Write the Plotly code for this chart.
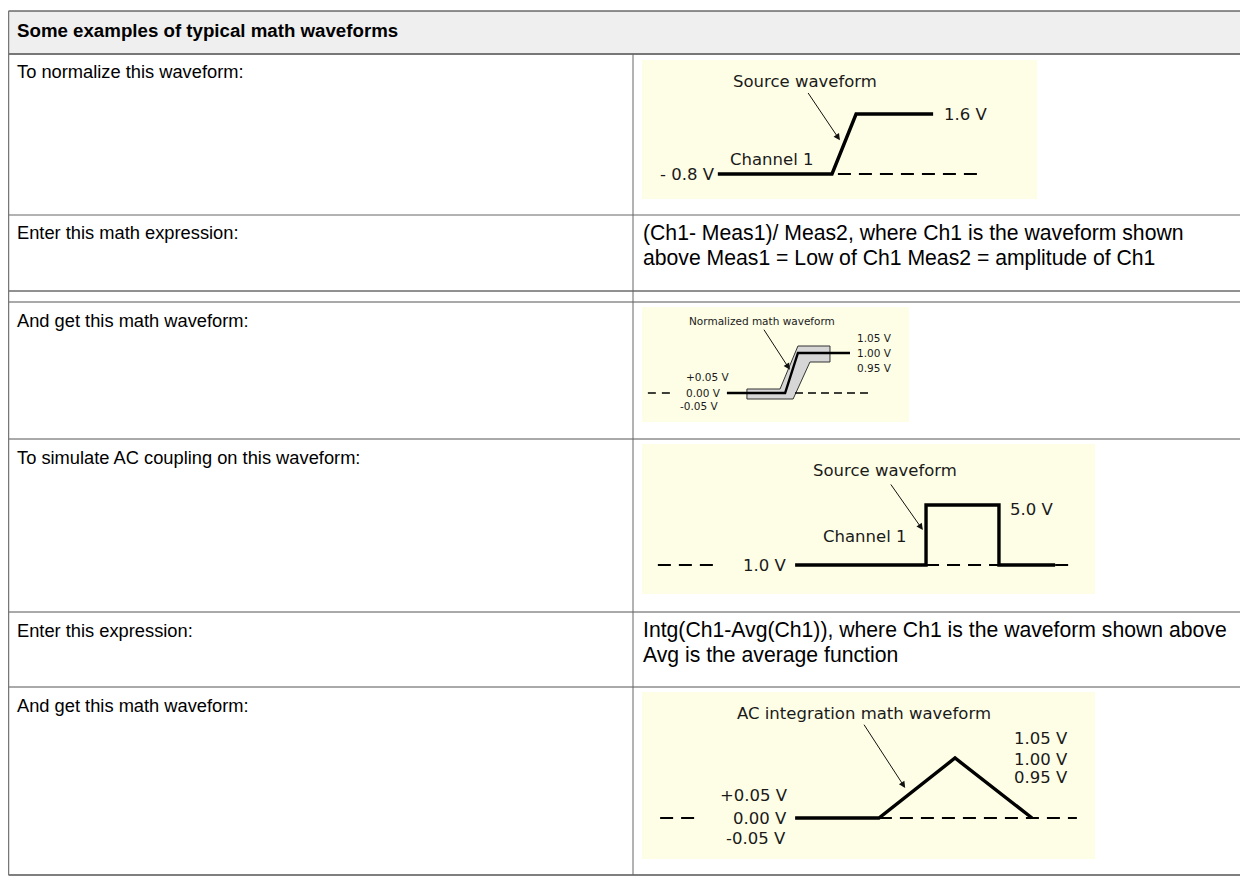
import plotly.graph_objects as go

# Page is 1248x877; the HTML body keeps an 8px margin, so the figure itself is 1240x869
PAGE_OFF = 8
W, H = 1240, 869

# ---------------- table content ----------------
header_text = "Some examples of typical math waveforms"
left_texts = [
    "To normalize this waveform:",
    "Enter this math expression:",
    "",
    "And get this math waveform:",
    "To simulate AC coupling on this waveform:",
    "Enter this expression:",
    "And get this math waveform:",
]
right_texts = [
    [],
    ["(Ch1- Meas1)/ Meas2, where Ch1 is the waveform shown",
     "above Meas1 = Low of Ch1 Meas2 = amplitude of Ch1"],
    [],
    [],
    [],
    ["Intg(Ch1-Avg(Ch1)), where Ch1 is the waveform shown above",
     "Avg is the average function"],
    [],
]

# ---------------- waveform data (time in % of panel width, level in V / drawing units) ----------------
# Panel 1: source waveform, step 0.8 V -> 1.6 V
p1_t = [19.2, 48.1, 54.2, 73.7]
p1_v = [0.8, 0.8, 1.6, 1.6]
p1_dash_t = [49.6, 84.8]
p1_dash_v = [0.8, 0.8]

# Panel 2: normalized math waveform with tolerance band
p2_t = [31.8, 53.6, 58.4, 77.9]
p2_v = [0.0, 0.0, 1.0, 1.0]
p2_band_up_t = [39.3, 51.7, 58.4, 70.4]
p2_band_up_v = [0.1, 0.1, 1.175, 1.175]
p2_band_lo_t = [39.3, 56.6, 62.9, 70.4]
p2_band_lo_v = [-0.15, -0.15, 0.775, 0.775]
p2_dash_t = [57.3, 85.4]
p2_dash_v = [0.0, 0.0]
p2_lead_t = [2.2, 12.4]
p2_lead_v = [0.0, 0.0]

# Panel 3: source pulse 1.0 V -> 5.0 V
p3_t = [33.8, 62.7, 62.7, 78.8, 78.8, 91.2]
p3_v = [1.0, 1.0, 5.0, 5.0, 1.0, 1.0]
p3_dash1_t = [62.7, 78.8]
p3_dash2_t = [91.2, 95.6]
p3_lead_t = [3.5, 15.7]
p3_level_v = [1.0, 1.0]

# Panel 4: AC integration triangle
p4_t = [33.8, 52.3, 69.1, 86.1]
p4_v = [0.0, 0.0, 1.0, 0.0]
p4_dash_t = [52.3, 96.0]
p4_lead_t = [4.0, 12.8]
p4_level_v = [0.0, 0.0]

# ---------------- layout geometry (page pixels) ----------------
row_edges = [11, 54, 215, 291, 302, 439, 612, 687, 875]
left_x, div_x = 8.5, 633
panels = [
    dict(box=(642, 60, 1037, 199), yr=(0.4667, 2.32)),
    dict(box=(642, 307, 909, 422), yr=(-0.725, 2.15)),
    dict(box=(642, 444, 1095, 594), yr=(-0.933, 9.067)),
    dict(box=(642, 692, 1095, 859), yr=(-0.683, 2.1)),
]


def px(x):
    return (x - PAGE_OFF) / W


def py(y):
    return 1 - (y - PAGE_OFF) / H


fig = go.Figure()
shapes = []
annotations = []

FAMILY = "Liberation Sans, Arial, sans-serif"
LEFT_FONT = dict(family=FAMILY, size=18.3, color="#000000")
HEAD_FONT = dict(family=FAMILY, size=18.7, color="#000000")
RIGHT_FONT = dict(family=FAMILY, size=21.2, color="#000000")
PANEL_FAMILY = "DejaVu Sans, Verdana, sans-serif"

# header background
shapes.append(dict(type="rect", xref="paper", yref="paper", x0=px(left_x), x1=1.0,
                   y0=py(row_edges[1]), y1=py(row_edges[0]), fillcolor="#efefef",
                   line=dict(width=0), layer="below"))
# horizontal lines
line_colors = ["#222222", "#777777", "#666666", "#222222", "#555555", "#555555", "#555555", "#555555", "#555555"]
line_widths = [1, 2, 1, 1, 1, 1, 1, 1, 1.5]
for yv, c, w in zip(row_edges, line_colors, line_widths):
    shapes.append(dict(type="line", xref="paper", yref="paper", x0=px(left_x), x1=1.0,
                       y0=py(yv), y1=py(yv), line=dict(color=c, width=w)))
# vertical lines
shapes.append(dict(type="line", xref="paper", yref="paper", x0=px(left_x), x1=px(left_x),
                   y0=py(row_edges[0]), y1=py(row_edges[-1]), line=dict(color="#777777", width=1.5)))
shapes.append(dict(type="line", xref="paper", yref="paper", x0=px(div_x), x1=px(div_x),
                   y0=py(row_edges[1]), y1=py(row_edges[-1]), line=dict(color="#666666", width=1)))

# header text
annotations.append(dict(text="<b>" + header_text + "</b>", xref="paper", yref="paper",
                        x=px(15), y=py(31), xanchor="left", yanchor="middle",
                        showarrow=False, font=HEAD_FONT))
# row texts
for i, (lt, rts) in enumerate(zip(left_texts, right_texts)):
    top = row_edges[i + 1]
    if lt:
        annotations.append(dict(text=lt, xref="paper", yref="paper", x=px(15), y=py(top + 18),
                                xanchor="left", yanchor="middle", showarrow=False, font=LEFT_FONT))
    for j, rt in enumerate(rts):
        annotations.append(dict(text=rt, xref="paper", yref="paper", x=px(641), y=py(top + 18 + 25 * j),
                                xanchor="left", yanchor="middle", showarrow=False, font=RIGHT_FONT))

# ---------------- panel axes ----------------
for k, p in enumerate(panels, start=1):
    x0, y0, x1, y1 = p["box"]
    ax = dict(domain=[px(x0), px(x1)], range=[0, 100], visible=False, fixedrange=True)
    ay = dict(domain=[py(y1), py(y0)], range=list(p["yr"]), visible=False, fixedrange=True)
    if k > 1:
        ax["anchor"] = f"y{k}"
        ay["anchor"] = f"x{k}"
    fig.update_layout(**{("xaxis" if k == 1 else f"xaxis{k}"): ax,
                         ("yaxis" if k == 1 else f"yaxis{k}"): ay})
    shapes.append(dict(type="rect", xref="paper", yref="paper", x0=px(x0), x1=px(x1),
                       y0=py(y1), y1=py(y0), fillcolor="#fefee6", line=dict(width=0), layer="below"))


def axn(k):
    return ("x" if k == 1 else f"x{k}"), ("y" if k == 1 else f"y{k}")


SOLID = dict(color="black", width=3.4)
DASH = dict(color="black", width=2, dash="13px,8px")


def add_line(k, t, v, line):
    xa, ya = axn(k)
    fig.add_trace(go.Scatter(x=t, y=v, mode="lines", line=line, xaxis=xa, yaxis=ya,
                             hoverinfo="skip", showlegend=False))


def label(k, t, v, text, anchor="left", size=16.5):
    xa, ya = axn(k)
    annotations.append(dict(text=text, x=t, y=v, xref=xa, yref=ya, xanchor=anchor, yanchor="middle",
                            showarrow=False, font=dict(family=PANEL_FAMILY, size=size, color="#1a1a1a")))


def arrow(k, t0, v0, t1, v1):
    xa, ya = axn(k)
    annotations.append(dict(text="", x=t1, y=v1, ax=t0, ay=v0, xref=xa, yref=ya, axref=xa, ayref=ya,
                            showarrow=True, arrowhead=2, arrowsize=1.3, arrowwidth=1, arrowcolor="#111111"))


# Panel 1
add_line(1, p1_dash_t, p1_dash_v, DASH)
add_line(1, p1_t, p1_v, SOLID)
label(1, 76.0, 1.6, "1.6 V")
label(1, 19.0, 0.8, "- 0.8 V", anchor="right")
label(1, 21.8, 0.99, "Channel 1")
label(1, 41.3, 2.03, "Source waveform", anchor="center")
arrow(1, 41.8, 1.90, 50.1, 1.25)

# Panel 2
band_t = p2_band_up_t + p2_band_lo_t[::-1] + [p2_band_up_t[0]]
band_v = p2_band_up_v + p2_band_lo_v[::-1] + [p2_band_up_v[0]]
fig.add_trace(go.Scatter(x=band_t, y=band_v, mode="lines", fill="toself", fillcolor="#d6d6d6",
                         line=dict(color="#333333", width=1), xaxis="x2", yaxis="y2",
                         hoverinfo="skip", showlegend=False))
add_line(2, p2_dash_t, p2_dash_v, dict(color="black", width=1.5, dash="8px,5px"))
add_line(2, p2_lead_t, p2_lead_v, dict(color="black", width=1.5, dash="8px,6px"))
add_line(2, p2_t, p2_v, dict(color="black", width=2.4))
label(2, 44.9, 1.8, "Normalized math waveform", anchor="center", size=10.5)
label(2, 79.8, 1.375, "1.05 V", size=10.5)
label(2, 79.8, 1.0, "1.00 V", size=10.5)
label(2, 79.8, 0.625, "0.95 V", size=10.5)
label(2, 33.7, 0.4, "+0.05 V", anchor="right", size=10.5)
label(2, 30.3, 0.0, "0.00 V", anchor="right", size=10.5)
label(2, 29.5, -0.325, "-0.05 V", anchor="right", size=10.5)
arrow(2, 45.3, 1.62, 55.4, 0.58)

# Panel 3
add_line(3, p3_lead_t, p3_level_v, DASH)
add_line(3, p3_dash1_t, p3_level_v, DASH)
add_line(3, p3_dash2_t, p3_level_v, DASH)
add_line(3, p3_t, p3_v, SOLID)
label(3, 80.8, 4.67, "5.0 V")
label(3, 58.7, 2.87, "Channel 1", anchor="right")
label(3, 32.2, 1.0, "1.0 V", anchor="right")
label(3, 53.6, 7.33, "Source waveform", anchor="center")
arrow(3, 54.7, 6.47, 62.0, 3.33)

# Panel 4
add_line(4, p4_lead_t, p4_level_v, DASH)
add_line(4, p4_dash_t, p4_level_v, DASH)
add_line(4, p4_t, p4_v, SOLID)
label(4, 49.1, 1.75, "AC integration math waveform", anchor="center")
label(4, 81.7, 1.317, "1.05 V")
label(4, 81.7, 0.983, "1.00 V")
label(4, 81.7, 0.667, "0.95 V")
label(4, 32.7, 0.367, "+0.05 V", anchor="right")
label(4, 32.4, 0.0, "0.00 V", anchor="right")
label(4, 32.2, -0.333, "-0.05 V", anchor="right")
arrow(4, 48.8, 1.58, 58.1, 0.5)

fig.update_layout(width=W, height=H, margin=dict(l=0, r=0, t=0, b=0),
                  paper_bgcolor="white", plot_bgcolor="#fefee6",
                  shapes=shapes, annotations=annotations, showlegend=False)

fig.write_html("out.html", config={"displayModeBar": False})
